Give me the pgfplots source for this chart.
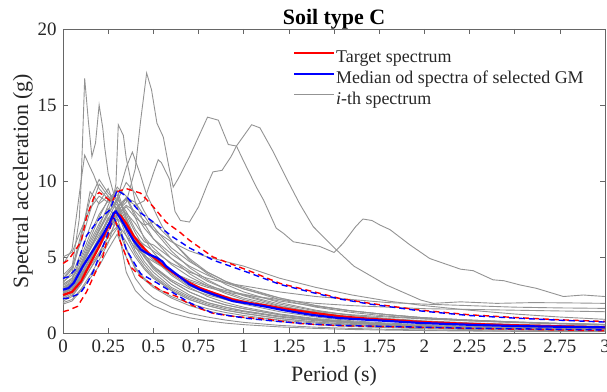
\documentclass[border=0pt]{standalone}
\usepackage{pgfplots}
\pgfplotsset{compat=1.18}
\usepackage{fontspec}
\setmainfont{Liberation Serif}
\begin{document}
\begin{tikzpicture}
\useasboundingbox (-63bp,-59bp) rectangle (544bp,333bp);
\begin{axis}[
  scale only axis, width=542bp, height=304bp,
  xmin=0, xmax=3, ymin=0, ymax=20,
  xtick={0,0.25,...,3}, ytick={0,5,10,15,20},
  tick align=inside, major tick length=5bp,
  axis line style={black!60, line width=0.6pt},
  tick style={black!60, line width=0.6pt},
  /pgf/number format/assume math mode=true,
  every tick label/.append style={font=\fontsize{19}{21}\selectfont, text=black!85},
  xticklabel style={yshift=-3bp},
  yticklabel style={xshift=-3bp},
  xlabel={Period (s)}, ylabel={Spectral acceleration (g)},
  label style={font=\fontsize{22}{24}\selectfont, text=black!85},
  xlabel style={at={(axis description cs:0.5,-0.1414)}, anchor=center},
  ylabel style={at={(axis description cs:-0.0738,0.5)}, anchor=center},
  title={Soil type C},
  title style={font=\fontsize{22}{24}\selectfont\bfseries, at={(axis description cs:0.5,1)}, anchor=base, yshift=-1bp},
  legend style={draw=none, fill=none, at={(axis description cs:0.424,0.937)}, anchor=north west,
    font=\fontsize{18}{20}\selectfont, inner sep=0pt, row sep=2bp,
    nodes={inner sep=1bp, text height=13bp, text depth=4bp, text=black!85}},
  legend cell align=left,
  legend image code/.code={\draw[#1] (0bp,5bp) -- (40bp,5bp);},
  gl/.style={color=gray!85, line width=0.9pt, forget plot},
]
\addlegendimage{red, line width=2.2pt}
\addlegendentry{Target spectrum}
\addlegendimage{blue, line width=2.2pt}
\addlegendentry{Median od spectra of selected GM}
\addlegendimage{gray!85, line width=0.9pt}
\addlegendentry{\textit{i}-th spectrum}

% generic ground motion spectra
\addplot[gl] coordinates {(0,3.5)(0.05,4.2)(0.1,6.5)(0.15,8.8)(0.2,10.1)(0.25,9.2)(0.3,8.6)(0.35,7.4)(0.4,6.3)(0.45,5.5)(0.5,5.0)(0.6,3.9)(0.7,3.1)(0.8,2.6)(0.9,2.2)(1,1.9)(1.2,1.4)(1.4,1.05)(1.6,0.8)(1.8,0.65)(2,0.55)(2.25,0.45)(2.5,0.38)(2.75,0.33)(3,0.29)};
\addplot[gl] coordinates {(0,2.9)(0.05,3.3)(0.1,4.5)(0.15,5.8)(0.2,7.0)(0.25,8.4)(0.3,9.6)(0.35,9.0)(0.4,7.8)(0.45,6.9)(0.5,6.2)(0.6,5.2)(0.7,4.4)(0.8,3.8)(0.9,3.3)(1,2.9)(1.2,2.2)(1.4,1.7)(1.6,1.35)(1.8,1.1)(2,0.95)(2.25,0.8)(2.5,0.68)(2.75,0.6)(3,0.52)};
\addplot[gl] coordinates {(0,2.3)(0.05,2.6)(0.1,3.4)(0.15,4.4)(0.2,5.3)(0.25,6.4)(0.3,7.0)(0.35,5.5)(0.4,4.2)(0.45,3.5)(0.5,3.0)(0.6,2.3)(0.7,1.8)(0.8,1.45)(0.9,1.2)(1,1.0)(1.2,0.75)(1.4,0.55)(1.6,0.42)(1.8,0.35)(2,0.28)(2.25,0.23)(2.5,0.19)(2.75,0.16)(3,0.14)};
\addplot[gl] coordinates {(0,3.0)(0.05,3.4)(0.1,4.3)(0.15,5.2)(0.2,6.3)(0.25,7.5)(0.3,8.7)(0.35,9.9)(0.4,9.2)(0.45,8.0)(0.5,7.0)(0.6,5.6)(0.7,4.7)(0.8,4.0)(0.9,3.4)(1,2.9)(1.2,2.3)(1.4,1.8)(1.6,1.45)(1.8,1.2)(2,1.0)(2.25,0.85)(2.5,0.72)(2.75,0.62)(3,0.55)};
\addplot[gl] coordinates {(0,2.6)(0.05,3.0)(0.1,4.6)(0.15,6.0)(0.2,7.2)(0.25,8.2)(0.3,7.6)(0.35,5.6)(0.4,4.3)(0.45,3.6)(0.5,3.1)(0.6,2.4)(0.7,1.95)(0.8,1.6)(0.9,1.35)(1,1.15)(1.2,0.85)(1.4,0.65)(1.6,0.5)(1.8,0.4)(2,0.33)(2.25,0.27)(2.5,0.22)(2.75,0.19)(3,0.16)};
\addplot[gl] coordinates {(0,2.7)(0.05,3.0)(0.1,3.9)(0.15,4.8)(0.2,5.8)(0.25,6.9)(0.3,7.8)(0.35,8.4)(0.4,8.0)(0.45,7.4)(0.5,6.8)(0.6,6.0)(0.7,5.4)(0.8,5.0)(0.9,4.7)(1,4.4)(1.2,3.6)(1.4,3.0)(1.6,2.5)(1.8,2.1)(2,1.8)(2.25,1.5)(2.5,1.25)(2.75,1.05)(3,0.9)};
\addplot[gl] coordinates {(0,3.3)(0.05,4.0)(0.1,6.2)(0.15,9.3)(0.2,8.5)(0.25,9.0)(0.3,8.0)(0.35,6.4)(0.4,5.2)(0.45,4.3)(0.5,3.7)(0.6,2.8)(0.7,2.2)(0.8,1.8)(0.9,1.5)(1,1.3)(1.2,0.95)(1.4,0.72)(1.6,0.56)(1.8,0.45)(2,0.37)(2.25,0.3)(2.5,0.25)(2.75,0.21)(3,0.18)};
\addplot[gl] coordinates {(0,2.5)(0.05,2.8)(0.1,3.8)(0.15,4.9)(0.2,5.9)(0.25,7.0)(0.3,7.5)(0.35,7.0)(0.4,6.3)(0.45,5.8)(0.5,5.4)(0.6,4.6)(0.7,4.0)(0.8,3.6)(0.9,3.3)(1,3.1)(1.2,2.7)(1.4,2.4)(1.6,2.2)(1.8,2.0)(2,1.9)(2.25,1.8)(2.5,1.7)(2.75,1.65)(3,1.62)};
\addplot[gl] coordinates {(0,3.1)(0.05,3.5)(0.1,4.8)(0.15,6.2)(0.2,7.6)(0.25,8.8)(0.3,8.2)(0.35,7.0)(0.4,6.1)(0.45,5.4)(0.5,4.8)(0.6,4.0)(0.7,3.4)(0.8,3.0)(0.9,2.7)(1,2.5)(1.2,2.2)(1.4,1.95)(1.6,1.8)(1.8,1.7)(2,1.6)(2.25,1.55)(2.5,1.5)(2.75,1.45)(3,1.4)};
\addplot[gl] coordinates {(0,1.9)(0.05,2.1)(0.1,2.8)(0.15,3.6)(0.2,4.4)(0.25,5.5)(0.3,6.5)(0.35,5.0)(0.4,3.6)(0.45,2.8)(0.5,2.3)(0.6,1.7)(0.7,1.3)(0.8,1.05)(0.9,0.85)(1,0.7)(1.2,0.5)(1.4,0.38)(1.6,0.3)(1.8,0.24)(2,0.2)(2.25,0.16)(2.5,0.13)(2.75,0.11)(3,0.1)};
\addplot[gl] coordinates {(0,2.8)(0.05,3.2)(0.1,4.0)(0.15,5.1)(0.2,6.2)(0.25,7.4)(0.3,8.3)(0.35,8.9)(0.4,8.6)(0.45,7.7)(0.5,6.8)(0.6,5.4)(0.7,4.3)(0.8,3.5)(0.9,2.9)(1,2.45)(1.2,1.8)(1.4,1.35)(1.6,1.05)(1.8,0.85)(2,0.7)(2.25,0.57)(2.5,0.48)(2.75,0.41)(3,0.36)};
\addplot[gl] coordinates {(0,2.4)(0.05,2.7)(0.1,3.6)(0.15,4.7)(0.2,5.7)(0.25,6.9)(0.3,8.1)(0.35,7.3)(0.4,6.2)(0.45,5.2)(0.5,4.4)(0.6,3.4)(0.7,2.7)(0.8,2.2)(0.9,1.85)(1,1.6)(1.2,1.2)(1.4,0.9)(1.6,0.7)(1.8,0.57)(2,0.47)(2.25,0.39)(2.5,0.33)(2.75,0.28)(3,0.25)};
\addplot[gl] coordinates {(0,3.8)(0.05,4.4)(0.1,6.0)(0.15,8.0)(0.2,9.8)(0.25,9.0)(0.3,8.4)(0.35,7.0)(0.4,5.7)(0.45,4.7)(0.5,4.0)(0.6,3.0)(0.7,2.4)(0.8,2.0)(0.9,1.7)(1,1.45)(1.2,1.1)(1.4,0.85)(1.6,0.66)(1.8,0.53)(2,0.44)(2.25,0.36)(2.5,0.3)(2.75,0.26)(3,0.22)};
\addplot[gl] coordinates {(0,4.5)(0.05,5.5)(0.1,10.0)(0.12,11.7)(0.15,10.9)(0.17,10.4)(0.2,9.5)(0.25,8.8)(0.3,9.4)(0.35,7.6)(0.4,6.2)(0.45,5.0)(0.5,4.2)(0.6,3.2)(0.7,2.5)(0.8,2.0)(0.9,1.7)(1,1.45)(1.2,1.1)(1.4,0.85)(1.6,0.68)(1.8,0.56)(2,0.47)(2.25,0.4)(2.5,0.34)(2.75,0.29)(3,0.25)};
\addplot[gl] coordinates {(0,2.2)(0.05,2.5)(0.1,3.3)(0.15,4.2)(0.2,5.2)(0.25,6.3)(0.3,7.4)(0.35,7.9)(0.4,7.2)(0.45,6.3)(0.5,5.6)(0.6,4.5)(0.7,3.7)(0.8,3.1)(0.9,2.6)(1,2.2)(1.2,1.65)(1.4,1.25)(1.6,0.98)(1.8,0.8)(2,0.66)(2.25,0.54)(2.5,0.45)(2.75,0.39)(3,0.34)};
\addplot[gl] coordinates {(0,2.6)(0.05,2.9)(0.1,3.7)(0.15,4.6)(0.2,5.6)(0.25,6.7)(0.3,7.7)(0.35,8.3)(0.4,7.6)(0.45,7.1)(0.5,7.3)(0.6,6.1)(0.7,4.8)(0.8,3.9)(0.9,3.2)(1,2.7)(1.2,2.0)(1.4,1.5)(1.6,1.15)(1.8,0.92)(2,0.76)(2.25,0.62)(2.5,0.52)(2.75,0.45)(3,0.39)};
\addplot[gl] coordinates {(0,2.0)(0.05,2.2)(0.1,2.9)(0.15,3.8)(0.2,4.8)(0.25,5.9)(0.3,7.8)(0.35,8.9)(0.4,7.6)(0.45,6.2)(0.5,5.3)(0.6,4.1)(0.7,3.3)(0.8,2.8)(0.9,2.4)(1,2.1)(1.2,1.6)(1.4,1.25)(1.6,1.0)(1.8,0.82)(2,0.7)(2.25,0.58)(2.5,0.5)(2.75,0.43)(3,0.38)};
\addplot[gl] coordinates {(0,3.2)(0.05,3.6)(0.1,5.0)(0.15,6.5)(0.2,7.8)(0.25,8.7)(0.3,9.1)(0.35,7.5)(0.4,6.0)(0.45,5.0)(0.5,4.4)(0.6,3.5)(0.7,2.9)(0.8,2.5)(0.9,2.2)(1,2.0)(1.2,1.65)(1.4,1.4)(1.6,1.2)(1.8,1.05)(2,0.92)(2.25,0.8)(2.5,0.7)(2.75,0.62)(3,0.56)};
\addplot[gl] coordinates {(0,2.1)(0.05,2.4)(0.1,3.2)(0.15,4.2)(0.2,5.1)(0.25,6.0)(0.3,6.9)(0.35,6.0)(0.4,5.0)(0.45,4.2)(0.5,3.6)(0.6,2.8)(0.7,2.2)(0.8,1.8)(0.9,1.5)(1,1.28)(1.2,0.95)(1.4,0.72)(1.6,0.56)(1.8,0.45)(2,0.38)(2.25,0.31)(2.5,0.26)(2.75,0.22)(3,0.19)};
\addplot[gl] coordinates {(0,5.0)(0.05,5.3)(0.1,6.8)(0.15,8.2)(0.2,9.0)(0.25,8.6)(0.3,8.9)(0.35,7.8)(0.4,6.6)(0.45,5.6)(0.5,4.9)(0.6,3.8)(0.7,3.0)(0.8,2.4)(0.9,2.0)(1,1.7)(1.2,1.25)(1.4,0.95)(1.6,0.75)(1.8,0.6)(2,0.5)(2.25,0.41)(2.5,0.34)(2.75,0.29)(3,0.25)};
\addplot[gl] coordinates {(0,2.9)(0.05,3.2)(0.1,4.4)(0.15,5.6)(0.2,6.8)(0.25,7.9)(0.3,8.8)(0.35,8.0)(0.4,6.8)(0.45,6.0)(0.5,5.8)(0.6,4.9)(0.7,4.1)(0.8,3.4)(0.9,2.9)(1,2.5)(1.2,1.9)(1.4,1.45)(1.6,1.15)(1.8,0.95)(2,0.8)(2.25,0.67)(2.5,0.57)(2.75,0.5)(3,0.44)};
\addplot[gl] coordinates {(0,2.5)(0.05,2.8)(0.1,3.7)(0.15,4.9)(0.2,6.1)(0.25,7.1)(0.3,7.2)(0.35,6.4)(0.4,5.6)(0.45,5.1)(0.5,4.7)(0.6,4.0)(0.7,3.5)(0.8,3.1)(0.9,2.8)(1,2.55)(1.2,2.1)(1.4,1.75)(1.6,1.45)(1.8,1.2)(2,1.0)(2.25,0.85)(2.5,0.73)(2.75,0.64)(3,0.57)};
\addplot[gl] coordinates {(0,3.4)(0.05,3.8)(0.1,5.3)(0.15,7.0)(0.2,8.6)(0.25,9.5)(0.3,8.0)(0.35,6.7)(0.4,5.4)(0.45,4.5)(0.5,3.8)(0.6,2.9)(0.7,2.3)(0.8,1.9)(0.9,1.6)(1,1.4)(1.2,1.05)(1.4,0.8)(1.6,0.63)(1.8,0.5)(2,0.42)(2.25,0.35)(2.5,0.29)(2.75,0.25)(3,0.22)};
\addplot[gl] coordinates {(0,2.4)(0.05,2.7)(0.1,3.7)(0.15,5.0)(0.2,6.3)(0.25,7.6)(0.3,7.2)(0.35,4.0)(0.4,2.8)(0.45,2.2)(0.5,1.8)(0.6,1.3)(0.7,1.0)(0.8,0.8)(0.9,0.65)(1,0.55)(1.2,0.4)(1.4,0.3)(1.6,0.23)(1.8,0.19)(2,0.16)(2.25,0.13)(2.5,0.11)(2.75,0.09)(3,0.08)};
% spiky records
\addplot[gl] coordinates {(0,3.6)(0.05,4.3)(0.09,7.5)(0.1,9.8)(0.12,16.75)(0.14,14.0)(0.16,11.6)(0.18,12.5)(0.2,15.0)(0.22,13.5)(0.23,12.3)(0.25,10.5)(0.28,9.2)(0.3,8.6)(0.35,7.0)(0.4,5.8)(0.45,5.0)(0.5,4.3)(0.6,3.4)(0.7,2.7)(0.8,2.2)(0.9,1.85)(1,1.6)(1.2,1.2)(1.4,0.9)(1.6,0.72)(1.8,0.58)(2,0.48)(2.25,0.4)(2.5,0.33)(2.75,0.28)(3,0.24)};
\addplot[gl] coordinates {(0,2.7)(0.05,3.1)(0.1,4.3)(0.15,5.5)(0.2,6.8)(0.25,8.0)(0.28,9.0)(0.293,9.8)(0.306,13.7)(0.334,13.0)(0.35,11.5)(0.38,9.8)(0.4,8.6)(0.45,7.2)(0.5,6.2)(0.6,4.9)(0.7,3.9)(0.8,3.2)(0.9,2.7)(1,2.3)(1.2,1.75)(1.4,1.35)(1.6,1.05)(1.8,0.85)(2,0.7)(2.25,0.58)(2.5,0.48)(2.75,0.41)(3,0.36)};
\addplot[gl] coordinates {(0,3.0)(0.05,3.3)(0.1,4.4)(0.15,5.6)(0.2,6.7)(0.25,7.8)(0.3,8.8)(0.35,10.9)(0.384,11.9)(0.426,10.5)(0.46,9.2)(0.5,8.2)(0.55,7.0)(0.6,6.1)(0.7,4.9)(0.8,4.0)(0.9,3.4)(1,3.0)(1.2,2.3)(1.4,1.8)(1.6,1.45)(1.8,1.2)(2,1.0)(2.25,0.85)(2.5,0.72)(2.75,0.62)(3,0.55)};
\addplot[gl] coordinates {(0,2.6)(0.05,2.9)(0.1,3.8)(0.15,4.9)(0.2,6.0)(0.25,7.0)(0.3,8.2)(0.35,8.8)(0.4,8.4)(0.45,8.7)(0.5,10.5)(0.527,11.4)(0.545,11.2)(0.59,10.1)(0.62,8.0)(0.65,7.4)(0.7,7.3)(0.75,8.3)(0.8,9.8)(0.83,10.6)(0.88,10.7)(0.93,11.6)(0.96,12.3)(1.044,13.7)(1.09,13.5)(1.16,12.0)(1.24,10.1)(1.31,8.5)(1.385,7.0)(1.515,5.45)(1.61,4.4)(1.79,3.16)(1.98,2.17)(2.05,1.95)(2.2,2.05)(2.4,1.95)(2.6,2.0)(2.8,1.98)(3,1.95)};
\addplot[gl] coordinates {(0,3.2)(0.05,3.6)(0.1,4.5)(0.15,5.5)(0.2,6.5)(0.25,7.4)(0.3,8.0)(0.35,8.6)(0.4,10.8)(0.43,14.0)(0.463,17.1)(0.49,16.0)(0.52,13.8)(0.555,12.9)(0.585,11.0)(0.61,9.6)(0.64,10.2)(0.7,11.6)(0.75,12.9)(0.8,14.2)(0.86,14.0)(0.915,12.4)(0.96,12.3)(1.0,11.3)(1.07,9.6)(1.11,8.75)(1.18,6.9)(1.22,6.56)(1.275,6.0)(1.42,5.7)(1.5,5.3)(1.55,5.9)(1.62,7.0)(1.66,7.5)(1.71,7.4)(1.755,7.1)(1.81,6.8)(1.92,5.8)(2.03,4.9)(2.2,4.2)(2.27,4.1)(2.38,3.5)(2.44,3.44)(2.53,3.16)(2.62,2.94)(2.77,2.4)(2.88,2.5)(3.0,2.4)};

% target +/- bounds (red dashed) and median +/- bounds (blue dashed)
\addplot[red, line width=1.4pt, dash pattern=on 6bp off 4bp, forget plot] coordinates {(0,4.58)(0.03,4.8)(0.1,6.0)(0.13,7.6)(0.17,8.9)(0.2,9.25)(0.23,9.0)(0.27,8.6)(0.3,9.3)(0.35,9.5)(0.43,9.2)(0.5,8.3)(0.57,7.3)(0.65,6.6)(0.7,6.1)(0.83,5.0)(1.02,4.14)(1.2,3.27)(1.385,2.72)(1.53,2.28)(1.7,1.95)(1.98,1.5)(2.25,1.2)(2.5,1.02)(2.75,0.87)(3,0.76)};
\addplot[red, line width=1.4pt, dash pattern=on 6bp off 4bp, forget plot] coordinates {(0,1.4)(0.03,1.5)(0.08,1.75)(0.13,2.7)(0.18,4.0)(0.22,5.0)(0.25,6.4)(0.28,7.75)(0.3,7.0)(0.315,6.1)(0.37,4.4)(0.43,3.7)(0.54,2.8)(0.63,2.4)(0.7,1.9)(0.76,1.6)(0.83,1.3)(0.94,1.1)(1.13,0.9)(1.31,0.62)(1.53,0.48)(2.25,0.3)(3,0.15)};
\addplot[blue, line width=1.4pt, dash pattern=on 6bp off 4bp, forget plot] coordinates {(0,3.6)(0.03,3.7)(0.07,4.2)(0.13,6.4)(0.2,7.5)(0.26,8.1)(0.3,9.4)(0.35,9.0)(0.43,7.9)(0.5,7.3)(0.61,6.3)(0.7,5.6)(0.83,4.8)(1.02,4.0)(1.2,3.2)(1.385,2.65)(1.53,2.24)(1.7,1.9)(1.98,1.45)(2.25,1.15)(2.5,0.98)(2.75,0.84)(3,0.72)};
\addplot[blue, line width=1.4pt, dash pattern=on 6bp off 4bp, forget plot] coordinates {(0,2.26)(0.03,2.3)(0.094,2.6)(0.13,3.2)(0.17,4.1)(0.24,6.3)(0.28,7.6)(0.315,6.8)(0.35,5.5)(0.43,3.9)(0.52,3.3)(0.63,2.5)(0.7,2.0)(0.83,1.3)(1.02,0.96)(1.2,0.75)(1.385,0.58)(1.53,0.5)(2.25,0.32)(3,0.2)};
% target spectrum
\addplot[red, line width=2.2pt, forget plot] coordinates {(0,2.5)(0.05,2.7)(0.1,3.4)(0.13,4.1)(0.17,5.0)(0.205,5.8)(0.25,7.0)(0.28,7.8)(0.29,7.95)(0.32,7.7)(0.35,7.2)(0.39,6.4)(0.43,5.8)(0.47,5.3)(0.52,4.8)(0.57,4.3)(0.63,3.8)(0.7,3.3)(0.76,2.95)(0.83,2.65)(0.94,2.2)(1.02,2.0)(1.13,1.8)(1.2,1.65)(1.31,1.45)(1.4,1.3)(1.53,1.1)(1.7,0.93)(2,0.72)(2.25,0.6)(2.5,0.51)(2.75,0.44)(3,0.38)};
% median of selected records
\addplot[blue, line width=2.2pt, forget plot] coordinates {(0,2.85)(0.03,2.95)(0.06,3.3)(0.11,4.4)(0.17,5.5)(0.22,6.45)(0.26,7.3)(0.28,7.87)(0.293,8.0)(0.32,7.5)(0.35,6.9)(0.39,6.1)(0.43,5.5)(0.47,5.2)(0.52,4.95)(0.55,4.7)(0.57,4.4)(0.63,3.85)(0.7,3.2)(0.76,2.85)(0.83,2.55)(0.94,2.1)(1.02,1.95)(1.13,1.72)(1.2,1.55)(1.31,1.32)(1.385,1.18)(1.53,0.98)(1.7,0.86)(1.98,0.66)(2.25,0.54)(2.5,0.46)(2.75,0.41)(3,0.37)};
\end{axis}
\end{tikzpicture}
\end{document}
